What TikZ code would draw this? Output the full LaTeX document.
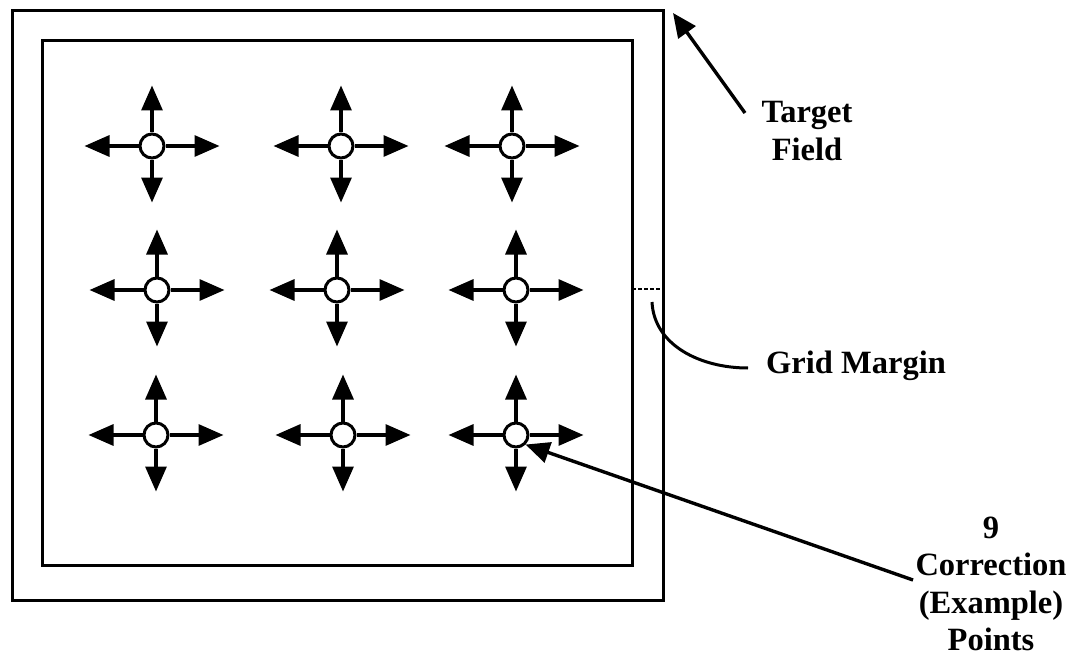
\documentclass[tikz,border=0pt]{standalone}
\usepackage{fontspec}
\setmainfont{Liberation Serif}
\usetikzlibrary{arrows.meta}
\tikzset{
  frame/.style={line width=3pt},
  pt/.style={circle,draw,line width=3pt,fill=white,minimum size=24pt,inner sep=0pt},
  arr/.style={line width=3.2pt,-{Triangle[length=25pt,width=21pt]}},
  lead/.style={line width=3.4pt,-{Triangle[length=24pt,width=21pt]}},
  lbl/.style={font=\fontsize{32.5}{37.5}\selectfont\bfseries,align=center,inner sep=0pt}
}
\begin{document}
\begin{tikzpicture}[x=1pt,y=-1pt]
\useasboundingbox (0,0) rectangle (1076,658);
\draw[frame] (12,11) rectangle (663,600);
\draw[frame] (42,41) rectangle (632,565);
% grid points
\foreach \n/\x/\y in {11/152/146,12/341/146,13/512/146,
                      21/157/290,22/337/290,23/516/290,
                      31/156/435,32/343/435,33/516/435}{
  \node[pt] (p\n) at (\x,\y) {};
  \draw[arr] (p\n.east) -- ++(54,0);
  \draw[arr] (p\n.west) -- ++(-54,0);
  \draw[arr] (p\n.north) -- ++(0,-47);
  \draw[arr] (p\n.south) -- ++(0,43);
}
% Target Field
\node[lbl] (tf) at (807,131) {Target\\Field};
\coordinate (tfs) at (745,113);
\coordinate (corner) at (673,13);
\draw[lead] (tfs) -- (corner);
% Grid margin
\coordinate (gm1) at (632,289);
\coordinate (gm2) at (663,289);
\draw[line width=2.6pt,dash pattern=on 4pt off 2pt] (gm1) -- (gm2);
\node[lbl,anchor=west] (gm) at (766,366) {Grid Margin};
\coordinate (gc) at (652,302);
\draw[line width=3pt] (gc) .. controls (654,345) and (700,368) .. (748,368);
% correction points
\node[lbl] (cp) at (991,584) {9\\Correction\\(Example)\\Points};
\coordinate (cps) at (913,580);
\draw[lead] (cps) -- (p33.south east);
\end{tikzpicture}
\end{document}
